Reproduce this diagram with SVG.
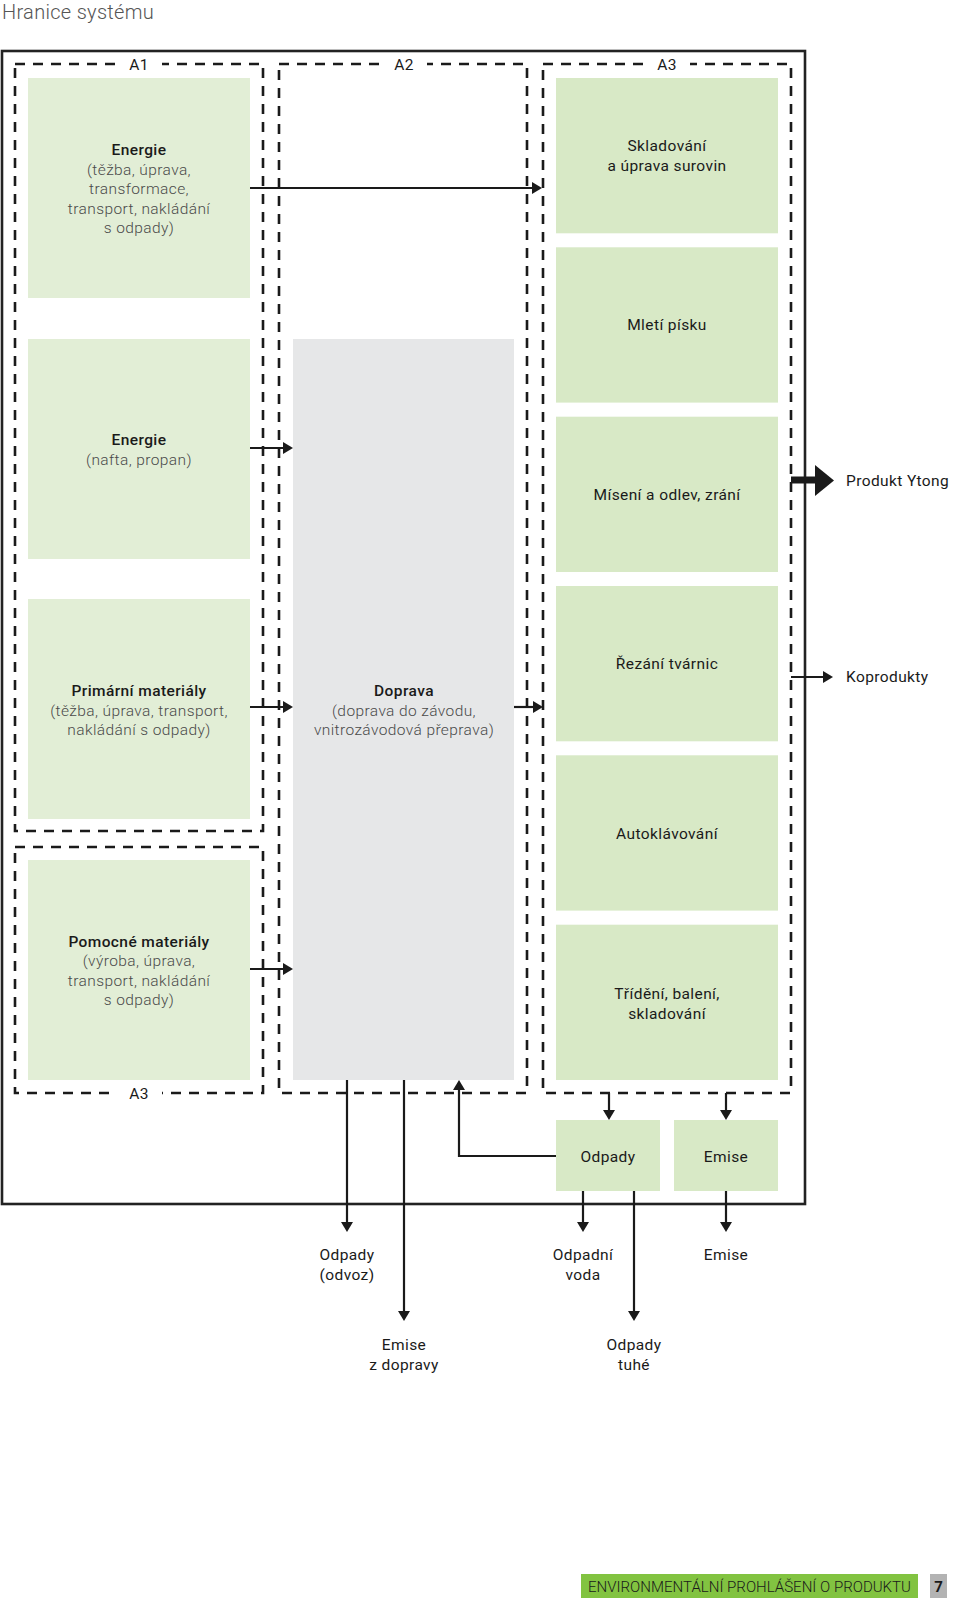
<svg xmlns="http://www.w3.org/2000/svg" width="960" height="1600" viewBox="0 0 960 1600">
<style>
.bg{fill:#ffffff}
.gl{fill:#e2eed6}
.gr{fill:#d8e9c6}
.gy{fill:#e6e7e8}
.frame{fill:none;stroke:#222;stroke-width:2.6}
.dash{fill:none;stroke:#1a1a1a;stroke-width:2.6;stroke-dasharray:10 8}
.con{fill:none;stroke:#1a1a1a;stroke-width:2.2}
.t{font-family:Roboto,"Liberation Sans",sans-serif;font-size:15.5px;letter-spacing:0.4px;text-anchor:middle}
.b{font-weight:500;fill:#1a1a1a}
.m{font-weight:400;fill:#1a1a1a}
.l{font-weight:300;fill:#4a4a4a}
.lab{font-family:Roboto,"Liberation Sans",sans-serif;font-size:15.5px;letter-spacing:0.4px;fill:#1a1a1a;font-weight:400}
</style>
<defs>
<marker id="ah" viewBox="0 0 10 12" refX="5" refY="6" markerWidth="10" markerHeight="12" markerUnits="userSpaceOnUse" orient="auto">
<path d="M0,0 L10,6 L0,12 z" fill="#1a1a1a"/>
</marker>
</defs>
<rect class="bg" x="0" y="0" width="960" height="1600"/>
<text x="2" y="19" font-family="Roboto,'Liberation Sans',sans-serif" font-size="20" font-weight="300" letter-spacing="0.3" fill="#555">Hranice systému</text>

<rect class="frame" x="2" y="51" width="803" height="1153"/>

<g id="zones">
<rect class="dash" x="15" y="64" width="248" height="767"/>
<rect class="dash" x="15" y="847" width="248" height="246"/>
<rect class="dash" x="279" y="64" width="248" height="1029"/>
<rect class="dash" x="543" y="64" width="248" height="1029"/>
<rect x="116" y="56" width="46" height="16" fill="#fff"/>
<text class="lab" x="139" y="70" text-anchor="middle">A1</text>
<rect x="381" y="56" width="46" height="16" fill="#fff"/>
<text class="lab" x="404" y="70" text-anchor="middle">A2</text>
<rect x="644" y="56" width="46" height="16" fill="#fff"/>
<text class="lab" x="667" y="70" text-anchor="middle">A3</text>
<rect x="116" y="1085" width="46" height="16" fill="#fff"/>
<text class="lab" x="139" y="1099" text-anchor="middle">A3</text>
</g>

<g id="n-energie1">
<rect class="gl" x="28" y="78" width="222" height="220"/>
<text class="t b" x="139" y="155">Energie</text>
<text class="t l" x="139" y="174.5">(těžba, úprava,</text>
<text class="t l" x="139" y="194">transformace,</text>
<text class="t l" x="139" y="213.5">transport, nakládání</text>
<text class="t l" x="139" y="233">s odpady)</text>
</g>
<g id="n-energie2">
<rect class="gl" x="28" y="339" width="222" height="220"/>
<text class="t b" x="139" y="445">Energie</text>
<text class="t l" x="139" y="464.5">(nafta, propan)</text>
</g>
<g id="n-primarni">
<rect class="gl" x="28" y="599" width="222" height="220"/>
<text class="t b" x="139" y="696">Primární materiály</text>
<text class="t l" x="139" y="715.5">(těžba, úprava, transport,</text>
<text class="t l" x="139" y="735">nakládání s odpady)</text>
</g>
<g id="n-pomocne">
<rect class="gl" x="28" y="860" width="222" height="220"/>
<text class="t b" x="139" y="946.5">Pomocné materiály</text>
<text class="t l" x="139" y="966">(výroba, úprava,</text>
<text class="t l" x="139" y="985.5">transport, nakládání</text>
<text class="t l" x="139" y="1005">s odpady)</text>
</g>
<g id="n-doprava">
<rect class="gy" x="293" y="339" width="221" height="741"/>
<text class="t b" x="404" y="696">Doprava</text>
<text class="t l" x="404" y="715.5">(doprava do závodu,</text>
<text class="t l" x="404" y="735">vnitrozávodová přeprava)</text>
</g>
<g id="n-skladovani">
<rect class="gr" x="556" y="78" width="222" height="155.3"/>
<text class="t m" x="667" y="151">Skladování</text>
<text class="t m" x="667" y="170.5">a úprava surovin</text>
</g>
<g id="n-mleti">
<rect class="gr" x="556" y="247.3" width="222" height="155.3"/>
<text class="t m" x="667" y="330">Mletí písku</text>
</g>
<g id="n-miseni">
<rect class="gr" x="556" y="416.7" width="222" height="155.3"/>
<text class="t m" x="667" y="500">Mísení a odlev, zrání</text>
</g>
<g id="n-rezani">
<rect class="gr" x="556" y="586" width="222" height="155.3"/>
<text class="t m" x="667" y="669">Řezání tvárnic</text>
</g>
<g id="n-autoklav">
<rect class="gr" x="556" y="755.3" width="222" height="155.3"/>
<text class="t m" x="667" y="838.5">Autoklávování</text>
</g>
<g id="n-trideni">
<rect class="gr" x="556" y="924.7" width="222" height="155.3"/>
<text class="t m" x="667" y="999">Třídění, balení,</text>
<text class="t m" x="667" y="1018.5">skladování</text>
</g>
<g id="n-odpady">
<rect class="gr" x="556" y="1120" width="104" height="71"/>
<text class="t m" x="608" y="1162">Odpady</text>
</g>
<g id="n-emise">
<rect class="gr" x="674" y="1120" width="104" height="71"/>
<text class="t m" x="726" y="1162">Emise</text>
</g>

<g id="connectors">
<path class="con" d="M250,188 H537" marker-end="url(#ah)"/>
<path class="con" d="M250,448 H288" marker-end="url(#ah)"/>
<path class="con" d="M250,707 H288" marker-end="url(#ah)"/>
<path class="con" d="M250,969 H288" marker-end="url(#ah)"/>
<path class="con" d="M514,707 H538" marker-end="url(#ah)"/>
<path class="con" d="M791,677 H828" marker-end="url(#ah)"/>
<path d="M791,480 H817" fill="none" stroke="#1a1a1a" stroke-width="7"/>
<path d="M815,465 L834,480.5 L815,496 z" fill="#1a1a1a"/>
<path class="con" d="M609,1093 V1115" marker-end="url(#ah)"/>
<path class="con" d="M726,1093 V1115" marker-end="url(#ah)"/>
<path class="con" d="M556,1156 H459 V1085" marker-end="url(#ah)"/>
<path class="con" d="M347,1080 V1227" marker-end="url(#ah)"/>
<path class="con" d="M404,1080 V1316" marker-end="url(#ah)"/>
<path class="con" d="M583,1191 V1227" marker-end="url(#ah)"/>
<path class="con" d="M634,1191 V1316" marker-end="url(#ah)"/>
<path class="con" d="M726,1191 V1227" marker-end="url(#ah)"/>
</g>

<g id="outputs">
<text class="lab" x="846" y="486">Produkt Ytong</text>
<text class="lab" x="846" y="682">Koprodukty</text>
<text class="t m" x="347" y="1260">Odpady</text>
<text class="t m" x="347" y="1279.5">(odvoz)</text>
<text class="t m" x="404" y="1350">Emise</text>
<text class="t m" x="404" y="1369.5">z dopravy</text>
<text class="t m" x="583" y="1260">Odpadní</text>
<text class="t m" x="583" y="1279.5">voda</text>
<text class="t m" x="726" y="1260">Emise</text>
<text class="t m" x="634" y="1350">Odpady</text>
<text class="t m" x="634" y="1369.5">tuhé</text>
</g>

<g id="footer">
<rect x="581" y="1574" width="337" height="24" fill="#82c341"/>
<text x="588" y="1591.5" font-family="Roboto,'Liberation Sans',sans-serif" font-size="15" font-weight="300" fill="#1a1a1a" textLength="323" lengthAdjust="spacingAndGlyphs">ENVIRONMENTÁLNÍ PROHLÁŠENÍ O PRODUKTU</text>
<rect x="930" y="1574" width="17" height="24" fill="#b3b3b3"/>
<text x="938.5" y="1591.5" font-family="Roboto,'Liberation Sans',sans-serif" font-size="15" font-weight="700" fill="#1a1a1a" text-anchor="middle">7</text>
</g>
</svg>
